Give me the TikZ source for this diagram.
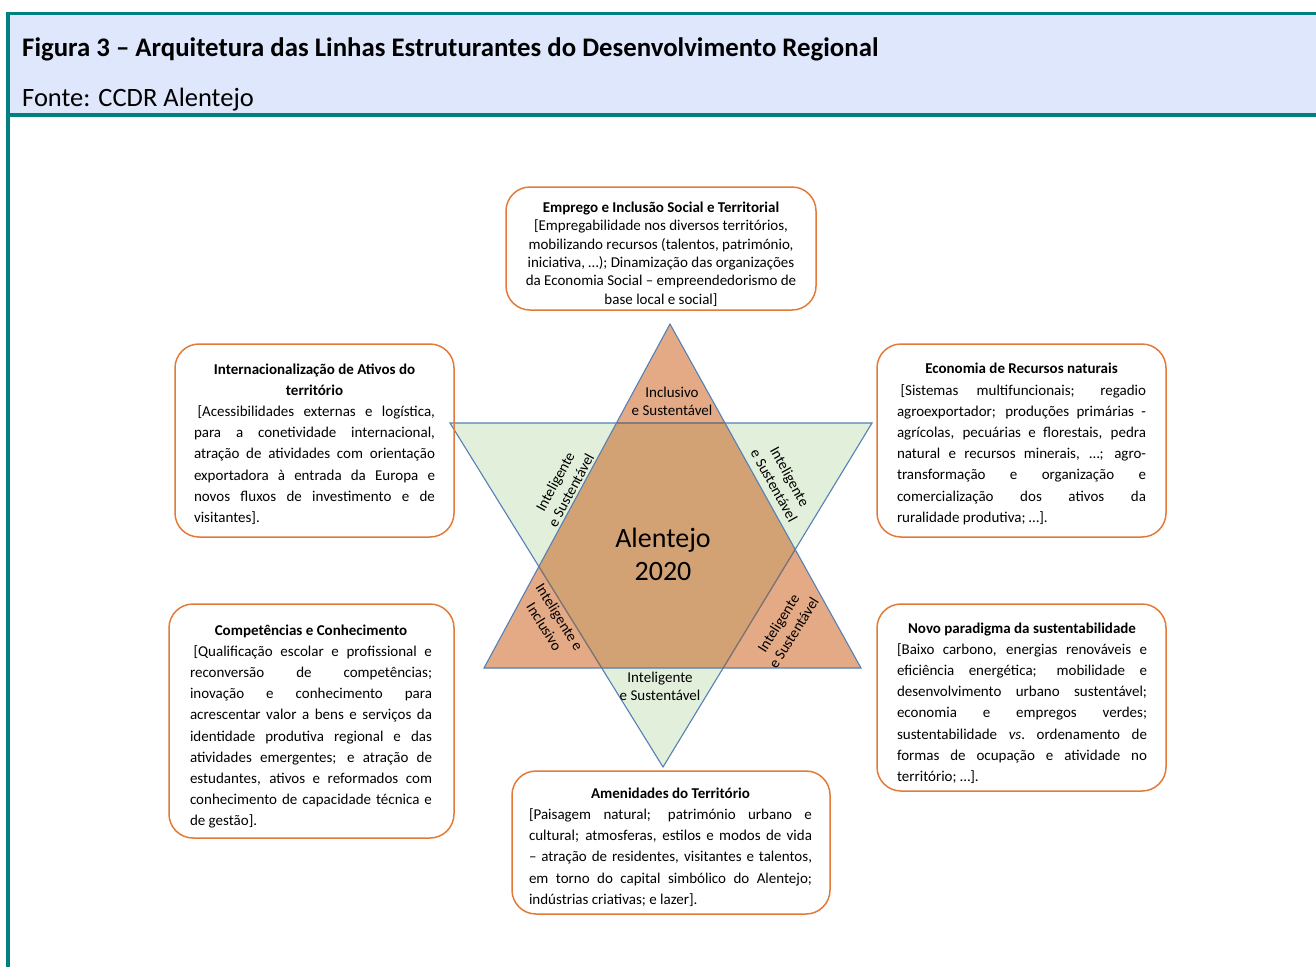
\documentclass[tikz,border=0pt]{standalone}
\usepackage{fontspec}
\setmainfont{Carlito}
\definecolor{teal1}{RGB}{0,128,128}
\definecolor{headbg}{RGB}{223,231,252}
\definecolor{boxorange}{RGB}{226,122,56}
\definecolor{triblue}{RGB}{84,128,182}
\definecolor{greenfill}{RGB}{226,239,218}
\definecolor{orangefill}{RGB}{228,170,134}
\definecolor{overlapfill}{RGB}{211,162,116}
\definecolor{overlapline}{RGB}{135,115,100}
\begin{document}
\begin{tikzpicture}[x=1pt,y=-1pt,
  box/.style={draw=boxorange, line width=1.5pt, rounded corners=24pt, inner sep=0pt},
  body/.style={font=\fontsize{15}{21.2}\selectfont, align=justify, inner sep=0pt},
  starlbl/.style={font=\fontsize{15}{18}\selectfont, align=center, inner sep=0pt},
  triline/.style={draw=triblue, line width=1.1pt, line join=miter}
]
\useasboundingbox (0,0) rectangle (1316,967);
% header
\fill[headbg] (6,14) rectangle (1316,114);
\draw[teal1, line width=3.5pt] (6,13.5) -- (1316,13.5);
\draw[teal1, line width=3.5pt] (6,114.8) -- (1316,114.8);
\draw[teal1, line width=4pt] (8,11.8) -- (8,967);
\node[anchor=base west, inner sep=0pt, font=\fontsize{26.8}{30}\selectfont\bfseries] (title) at (22,56.7)
  {Figura 3 – Arquitetura das Linhas Estruturantes do Desenvolvimento Regional};
\node[anchor=base west, inner sep=0pt, font=\fontsize{26.5}{30}\selectfont] (fonte) at (22,106.5)
  {Fonte: CCDR Alentejo};

% star
\coordinate (A) at (670,324);
\coordinate (B) at (484,668);
\coordinate (C) at (861,668);
\coordinate (D) at (450,423);
\coordinate (E) at (872,423);
\coordinate (F) at (663,767);
\coordinate (P1) at (intersection of A--B and D--E);
\coordinate (P2) at (intersection of A--C and D--E);
\coordinate (P3) at (intersection of A--C and E--F);
\coordinate (P4) at (intersection of B--C and E--F);
\coordinate (P5) at (intersection of B--C and D--F);
\coordinate (P6) at (intersection of A--B and D--F);
\fill[greenfill] (D) -- (E) -- (F) -- cycle;
\fill[orangefill] (A) -- (B) -- (C) -- cycle;
\fill[overlapfill] (P1) -- (P2) -- (P3) -- (P4) -- (P5) -- (P6) -- cycle;
\draw[triline] (D) -- (E) -- (F) -- cycle;
\draw[overlapline, line width=1.1pt] (P1) -- (P2) (P3) -- (P4) (P5) -- (P6);
\draw[triline] (A) -- (B) -- (C) -- cycle;

\node[font=\fontsize{28}{33}\selectfont, align=center, inner sep=0pt] (centre) at (663,554) {Alentejo\\2020};
\node[starlbl] (lTop) at (672,401) {Inclusivo\\e Sustentável};
\node[starlbl] (lBot) at (660,686) {Inteligente\\e Sustentável};
\node[starlbl, rotate=61.6] (lUL) at (563,486) {Inteligente\\e Sustentável};
\node[starlbl, rotate=-61] (lUR) at (782,481) {Inteligente\\e Sustentável};
\node[starlbl, rotate=-58] (lLL) at (552,622) {Inteligente e\\Inclusivo};
\node[starlbl, rotate=58] (lLR) at (786,628) {Inteligente\\e Sustentável};

% boxes
\node[box, minimum width=310pt, minimum height=123pt] (bTop) at (661,248.5) {};
\node[box, minimum width=279pt, minimum height=193pt] (bLT) at (314.5,440.5) {};
\node[box, minimum width=289pt, minimum height=193pt] (bRT) at (1021.5,440.5) {};
\node[box, minimum width=285pt, minimum height=234pt] (bLB) at (311.5,721) {};
\node[box, minimum width=289pt, minimum height=187pt] (bRB) at (1021.5,697.5) {};
\node[box, minimum width=318pt, minimum height=143pt] (bBot) at (671,842.5) {};

\node[font=\fontsize{15}{18.4}\selectfont, align=center, inner sep=0pt] (tTop) at (661,254)
 {\textbf{Emprego e Inclusão Social e Territorial}\\{}%
  [Empregabilidade nos diversos territórios,\\
  mobilizando recursos (talentos, património,\\
  iniciativa, …); Dinamização das organizações\\
  da Economia Social – empreendedorismo de\\
  base local e social]};

\node[body, text width=241pt] (tLT) at (314.5,444)
 {{\centering\bfseries Internacionalização de Ativos do\\ território\par}
  \leavevmode\kern3.5pt[Acessibilidades externas e logística,\linebreak
  para a conetividade internacional,\linebreak
  atração de atividades com orientação\linebreak
  exportadora à entrada da Europa e\linebreak
  novos fluxos de investimento e de\linebreak
  visitantes].};

\node[body, text width=249pt] (tRT) at (1021.5,444)
 {{\centering\bfseries Economia de Recursos naturais\par}
  \leavevmode\kern3.5pt[Sistemas multifuncionais; regadio\linebreak
  agroexportador; produções primárias -\linebreak
  agrícolas, pecuárias e florestais, pedra\linebreak
  natural e recursos minerais, …; agro-\linebreak
  transformação e organização e\linebreak
  comercialização dos ativos da\linebreak
  ruralidade produtiva; …].};

\node[body, text width=242pt] (tLB) at (311,726.5)
 {{\centering\bfseries Competências e Conhecimento\par}
  \leavevmode\kern3.5pt[Qualificação escolar e profissional e\linebreak
  reconversão de competências;\linebreak
  inovação e conhecimento para\linebreak
  acrescentar valor a bens e serviços da\linebreak
  identidade produtiva regional e das\linebreak
  atividades emergentes; e atração de\linebreak
  estudantes, ativos e reformados com\linebreak
  conhecimento de capacidade técnica e\linebreak
  de gestão].};

\node[body, text width=250pt] (tRB) at (1022,703)
 {{\centering\bfseries Novo paradigma da sustentabilidade\par}
  {}[Baixo carbono, energias renováveis e\linebreak
  eficiência energética; mobilidade e\linebreak
  desenvolvimento urbano sustentável;\linebreak
  economia e empregos verdes;\linebreak
  sustentabilidade \textit{vs}.\ ordenamento de\linebreak
  formas de ocupação e atividade no\linebreak
  território; …].};

\node[body, text width=283pt] (tBot) at (670.5,847)
 {{\centering\bfseries Amenidades do Território\par}
  {}[Paisagem natural; património urbano e\linebreak
  cultural; atmosferas, estilos e modos de vida\linebreak
  – atração de residentes, visitantes e talentos,\linebreak
  em torno do capital simbólico do Alentejo;\linebreak
  indústrias criativas; e lazer].};
\end{tikzpicture}
\end{document}
